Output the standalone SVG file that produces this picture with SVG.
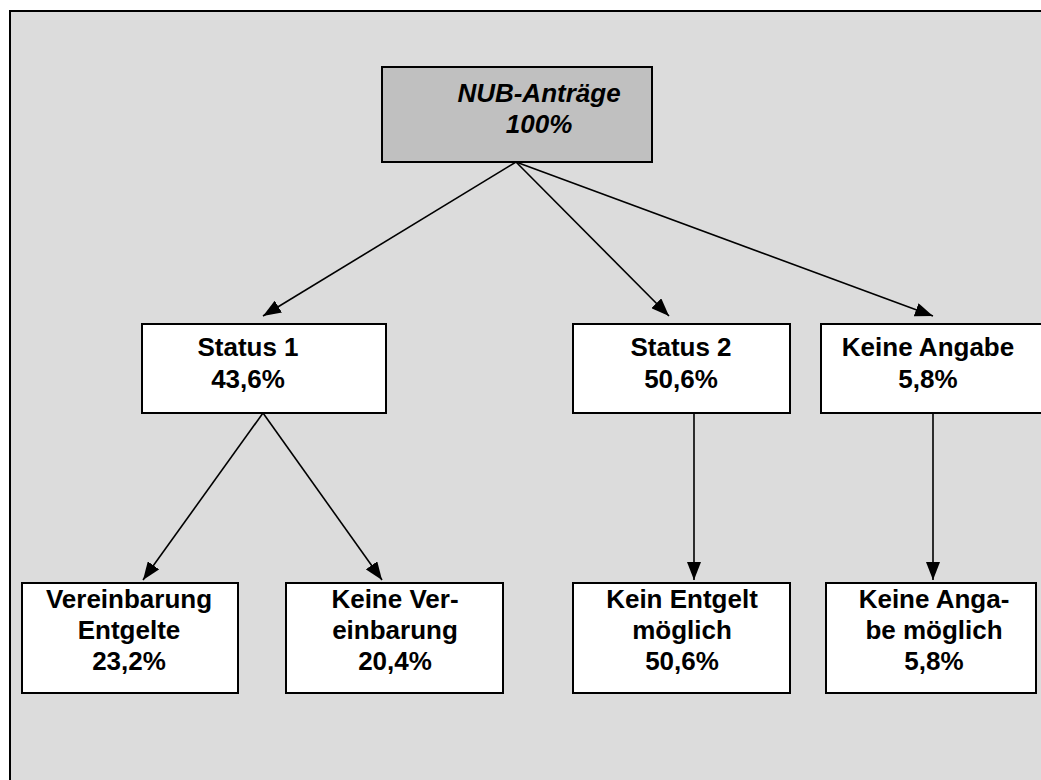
<svg xmlns="http://www.w3.org/2000/svg" width="1041" height="780" viewBox="0 0 1041 780">
<style>
.box{fill:#fff;stroke:#000;stroke-width:2}
.t{font-family:"Liberation Sans",Arial,sans-serif;font-weight:bold;font-size:26px;text-anchor:middle;fill:#000}
.it{font-style:italic}
.c{stroke:#000;stroke-width:1.6;fill:none;marker-end:url(#ah)}
</style>
<defs>
<marker id="ah" markerUnits="userSpaceOnUse" markerWidth="20" markerHeight="14" viewBox="0 0 20 14" refX="18" refY="7" orient="auto">
<path d="M0,0 L18,7 L0,14 z" fill="#000"/>
</marker>
</defs>
<rect width="1041" height="780" fill="#fff"/>
<rect x="10" y="11" width="1040" height="790" fill="#dcdcdc" stroke="#000" stroke-width="2"/>
<g id="connectors">
<line class="c" x1="516" y1="162" x2="263" y2="316"/>
<line class="c" x1="516" y1="162" x2="669" y2="316"/>
<line class="c" x1="516" y1="162" x2="933" y2="316"/>
<line class="c" x1="263" y1="413" x2="143" y2="580"/>
<line class="c" x1="263" y1="413" x2="382" y2="580"/>
<line class="c" x1="694" y1="413" x2="694" y2="580"/>
<line class="c" x1="933" y1="413" x2="933" y2="580"/>
</g>
<g id="nub">
<rect x="382" y="67" width="270" height="95" fill="#c0c0c0" stroke="#000" stroke-width="2"/>
<text class="t it" x="539" y="102">NUB-Anträge</text>
<text class="t it" x="539" y="133">100%</text>
</g>
<g id="status1">
<rect class="box" x="142" y="324" width="244" height="89"/>
<text class="t" x="248" y="356">Status 1</text>
<text class="t" x="248" y="388">43,6%</text>
</g>
<g id="status2">
<rect class="box" x="573" y="324" width="217" height="89"/>
<text class="t" x="681" y="356">Status 2</text>
<text class="t" x="681" y="388">50,6%</text>
</g>
<g id="keineangabe">
<rect class="box" x="821" y="324" width="225" height="89"/>
<text class="t" x="928" y="356">Keine Angabe</text>
<text class="t" x="928" y="388">5,8%</text>
</g>
<g id="vereinbarung">
<rect class="box" x="22" y="583" width="216" height="110"/>
<text class="t" x="129" y="608">Vereinbarung</text>
<text class="t" x="129" y="639">Entgelte</text>
<text class="t" x="129" y="670">23,2%</text>
</g>
<g id="keinevereinbarung">
<rect class="box" x="286" y="583" width="217" height="110"/>
<text class="t" x="395" y="608">Keine Ver-</text>
<text class="t" x="395" y="639">einbarung</text>
<text class="t" x="395" y="670">20,4%</text>
</g>
<g id="keinentgelt">
<rect class="box" x="573" y="583" width="217" height="110"/>
<text class="t" x="682" y="608">Kein Entgelt</text>
<text class="t" x="682" y="639">möglich</text>
<text class="t" x="682" y="670">50,6%</text>
</g>
<g id="keineangabemoeglich">
<rect class="box" x="826" y="583" width="210" height="110"/>
<text class="t" x="934" y="608">Keine Anga-</text>
<text class="t" x="934" y="639">be möglich</text>
<text class="t" x="934" y="670">5,8%</text>
</g>
</svg>
